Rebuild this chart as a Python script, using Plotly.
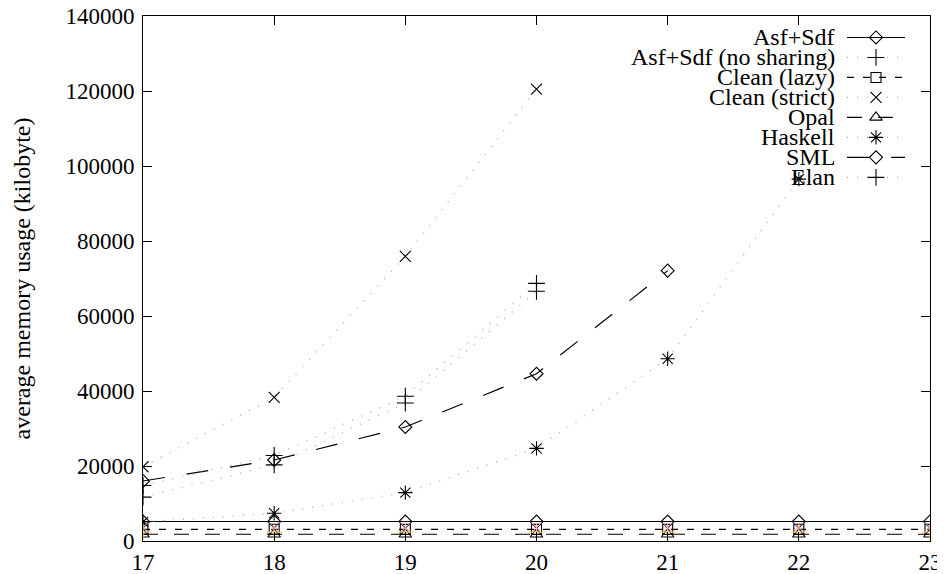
import plotly.graph_objects as go

# ---------------- data ----------------
sizes_all = [17, 18, 19, 20, 21, 22, 23]

asf_sdf = [5200, 5200, 5200, 5200, 5200, 5200, 5200]
clean_lazy = [3100, 3100, 3100, 3100, 3100, 3100, 3100]
opal = [1800, 1800, 1800, 1800, 1800, 1800, 1800]

sizes_4 = [17, 18, 19, 20]
asf_sdf_no_sharing = [11700, 20300, 36800, 66600]
clean_strict = [19800, 38300, 75900, 120500]
elan = [14800, 22800, 38600, 68700]

sizes_haskell = [17, 18, 19, 20, 21, 22]
haskell = [5100, 7400, 12900, 24700, 48600, 96500]

sizes_sml = [17, 18, 19, 20, 21]
sml = [16000, 21600, 30400, 44600, 72100]

# small markers visible in the low cluster at every size
low_cross = [3600, 3600, 3600, 3600, 3600, 3600, 3600]
low_plus = [2400, 2400, 2400, 2400, 2400, 2400, 2400]

y_ticks = [0, 20000, 40000, 60000, 80000, 100000, 120000, 140000]
x_ticks = [17, 18, 19, 20, 21, 22, 23]

# ---------------- styles ----------------
FONT = "Liberation Serif"
DOT = "#ababab"
DOTDASH = "1px,9px"
series = [
    # name, x, y, symbol, line color, dash
    ("Asf+Sdf", sizes_all, asf_sdf, "diamond-open", "black", "solid"),
    ("Asf+Sdf (no sharing)", sizes_4, asf_sdf_no_sharing, "cross-thin-open", DOT, DOTDASH),
    ("Clean (lazy)", sizes_all, clean_lazy, "square-open", "black", "7px,9px"),
    ("Clean (strict)", sizes_4, clean_strict, "x-thin-open", DOT, DOTDASH),
    ("Opal", sizes_all, opal, "triangle-up-open", "black", "15px,16px"),
    ("Haskell", sizes_haskell, haskell, "asterisk-open", DOT, DOTDASH),
    ("SML", sizes_sml, sml, "diamond-open", "black", "22px,22px"),
    ("Elan", sizes_4, elan, "cross-thin-open", DOT, DOTDASH),
]
sizes_map = {"diamond-open": 10, "cross-thin-open": 12, "square-open": 10,
             "x-thin-open": 11, "triangle-up-open": 11, "asterisk-open": 12}

fig = go.Figure()

for name, xs, ys, sym, col, dash in series:
    fig.add_trace(go.Scatter(
        x=xs, y=ys, mode="lines+markers", name=name, showlegend=False,
        line=dict(color=col, width=1.2 if col == "black" else 1.3, dash=dash),
        marker=dict(symbol=sym, size=sizes_map[sym], color="black",
                    line=dict(color="black", width=1.1)),
    ))

fig.add_trace(go.Scatter(x=sizes_all, y=low_cross, mode="markers", showlegend=False,
                         marker=dict(symbol="x-thin-open", size=10,
                                     line=dict(color="black", width=1))))
fig.add_trace(go.Scatter(x=sizes_all, y=low_plus, mode="markers", showlegend=False,
                         marker=dict(symbol="cross-thin-open", size=12,
                                     line=dict(color="black", width=1))))

# ---------------- layout geometry ----------------
# the page body adds an 8px offset, so the figure margins are shifted by it
PAGE_OFF = 8
L, R, T, B = 143, 930, 15.5, 541          # plot box in window pixels
W, H = 945, 574

# ---------------- custom gnuplot-style key (pixel coordinates on overlay axes) ----------------
key_text_x = 836
key_line_x0, key_line_x1, key_mark_x = 847, 905, 876
key_y0, key_dy = 37, 20
annotations = []
for i, (name, xs, ys, sym, col, dash) in enumerate(series):
    yy = key_y0 + i * key_dy
    fig.add_trace(go.Scatter(
        x=[key_line_x0, key_line_x1], y=[yy, yy], xaxis="x2", yaxis="y2",
        mode="lines", showlegend=False, hoverinfo="skip",
        line=dict(color=col, width=1.2 if col == "black" else 1.3, dash=dash)))
    fig.add_trace(go.Scatter(
        x=[key_mark_x], y=[yy], xaxis="x2", yaxis="y2", mode="markers",
        showlegend=False, hoverinfo="skip",
        marker=dict(symbol=sym, size=sizes_map[sym], color="black",
                    line=dict(color="black", width=1.1))))
    annotations.append(dict(x=key_text_x, y=yy, xref="x2", yref="y2", text=name,
                            showarrow=False, xanchor="right", yanchor="middle",
                            borderpad=0,
                            font=dict(family=FONT, size=24, color="black")))

fig.update_layout(
    width=W, height=H,
    margin=dict(l=L - PAGE_OFF, r=W - (R - PAGE_OFF), t=T - PAGE_OFF,
                b=H - (B - PAGE_OFF), autoexpand=False),
    paper_bgcolor="white", plot_bgcolor="white",
    font=dict(family=FONT, size=23, color="black"),
    annotations=annotations,
    xaxis=dict(range=[17, 23], tickvals=x_ticks, ticktext=[str(v) for v in x_ticks],
               showgrid=False, zeroline=False, showline=True, linecolor="black",
               linewidth=1, mirror="ticks", ticks="inside", ticklen=9,
               tickcolor="black", tickfont=dict(family=FONT, size=23),
               ticklabelstandoff=0, automargin=False, ticklabeloverflow="allow"),
    yaxis=dict(range=[0, 140000], tickvals=y_ticks, ticktext=[str(v) for v in y_ticks],
               showgrid=False, zeroline=False, showline=True, linecolor="black",
               linewidth=1, mirror="ticks", ticks="inside", ticklen=9,
               tickcolor="black", tickfont=dict(family=FONT, size=23),
               ticklabelstandoff=3, automargin=False, ticklabeloverflow="allow",
               title=dict(text="average memory usage (kilobyte)",
                          font=dict(family=FONT, size=24), standoff=28)),
    xaxis2=dict(overlaying="x", range=[L, R], visible=False, fixedrange=True),
    yaxis2=dict(overlaying="y", range=[B, T], visible=False, fixedrange=True),
)

fig.write_html("out.html")
